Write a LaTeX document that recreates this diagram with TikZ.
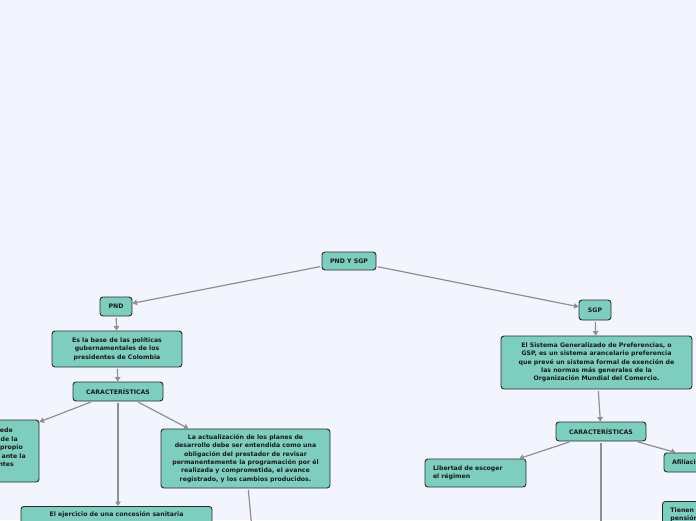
\documentclass[tikz,border=0pt]{standalone}
\usepackage{fontspec}
\setmainfont{DejaVu Sans}
\usetikzlibrary{arrows.meta}
\definecolor{bg}{HTML}{F3F5FE}
\definecolor{nodefill}{HTML}{7DCEBF}
\definecolor{nodeline}{HTML}{2A2A2A}
\definecolor{edgecol}{HTML}{8E8E96}
\definecolor{txt}{HTML}{1A1A1A}
\begin{document}
\begin{tikzpicture}[x=1pt,y=-1pt,
  mm/.style={draw=nodeline, line width=0.9pt, fill=nodefill, rounded corners=3pt,
    font=\fontsize{6.2}{8.3}\selectfont\bfseries, text=txt, align=center, inner sep=0pt},
  frag/.style={font=\fontsize{6.2}{8.3}\selectfont\bfseries, text=txt, inner sep=0pt},
  conn/.style={draw=edgecol, line width=1.2pt, shorten <=1.5pt, -{Triangle[width=5.5pt,length=4.5pt]}},
  plainconn/.style={draw=edgecol, line width=1.2pt, shorten <=1.5pt}]
\fill[bg] (0,0) rectangle (696,520);
\useasboundingbox (0,0) rectangle (696,520);
\begin{scope}
\clip (0,0) rectangle (696,520);
% root
\node[mm, minimum width=54, minimum height=18] (root) at (349,261) {PND Y SGP};
% left branch
\node[mm, minimum width=32, minimum height=19] (pnd) at (116,306.5) {PND};
\node[mm, minimum width=130, minimum height=36] (pbase) at (117,349)
  {Es la base de las políticas\\gubernamentales de los\\presidentes de Colombia};
\node[mm, minimum width=90, minimum height=19] (pcar) at (118,391.5) {CARACTERÍSTICAS};
\node[mm, minimum width=150, minimum height=62] (pleft) at (-36,451) {};
\node[frag, anchor=base east] (pl1) at (13,432.5) {ede};
\node[frag, anchor=base east] (pl2) at (18,441) {de la};
\node[frag, anchor=base east] (pl3) at (23,449.5) {propio};
\node[frag, anchor=base east] (pl4) at (26,458) {ante la};
\node[frag, anchor=base east] (pl5) at (14,466.5) {ntes};
\node[mm, minimum width=169, minimum height=59] (pact) at (245.5,458.5)
  {La actualización de los planes de\\desarrollo debe ser entendida como una\\obligación del prestador de revisar\\permanentemente la programación por él\\realizada y comprometida, el avance\\registrado, y los cambios producidos.};
\node[mm, minimum width=191, anchor=north, text height=6pt, text depth=30pt, inner ysep=4pt] (pejer) at (116.5,506)
  {El ejercicio de una concesión sanitaria};
\coordinate (actdown) at (254.75,560);
% right branch
\node[mm, minimum width=32, minimum height=20] (sgp) at (595,310) {SGP};
\node[mm, minimum width=191, minimum height=53] (sdesc) at (596.5,362.5)
  {El Sistema Generalizado de Preferencias, o\\GSP, es un sistema arancelario preferencia\\que prevé un sistema formal de exención de\\las normas más generales de la\\Organización Mundial del Comercio.};
\node[mm, minimum width=90, minimum height=19] (scar) at (601,431.5) {CARACTERÍSTICAS};
\node[mm, minimum width=101, minimum height=28, align=left, text width=85pt] (slib) at (475.5,473)
  {Libertad de escoger\\el régimen};
\node[mm, minimum width=94, minimum height=19, align=left, text width=78pt] (safi) at (711,462.5) {Afiliación};
\node[mm, anchor=north west, minimum width=80, align=left, text width=64pt, text height=7pt, text depth=30pt, inner ysep=4pt] (stien) at (662,501)
  {Tienen\\pensión};
\coordinate (scardown) at (601,560);
% connectors
\draw[conn] (root) -- (pnd);
\draw[conn] (root) -- (sgp);
\draw[conn] (pnd) -- (pbase);
\draw[conn] (pbase) -- (pcar);
\draw[conn] (pcar) -- (pleft);
\draw[conn] (pcar) -- (pact);
\draw[conn] (pcar.south) -- (pcar.south |- pejer.north);
\draw[plainconn] (pact) -- (actdown);
\draw[conn] (sgp) -- (sdesc);
\draw[conn] (sdesc) -- (scar);
\draw[conn] (scar) -- (slib);
\draw[conn] (scar) -- (safi);
\draw[plainconn] (scar) -- (scardown);
\end{scope}
\end{tikzpicture}
\end{document}
